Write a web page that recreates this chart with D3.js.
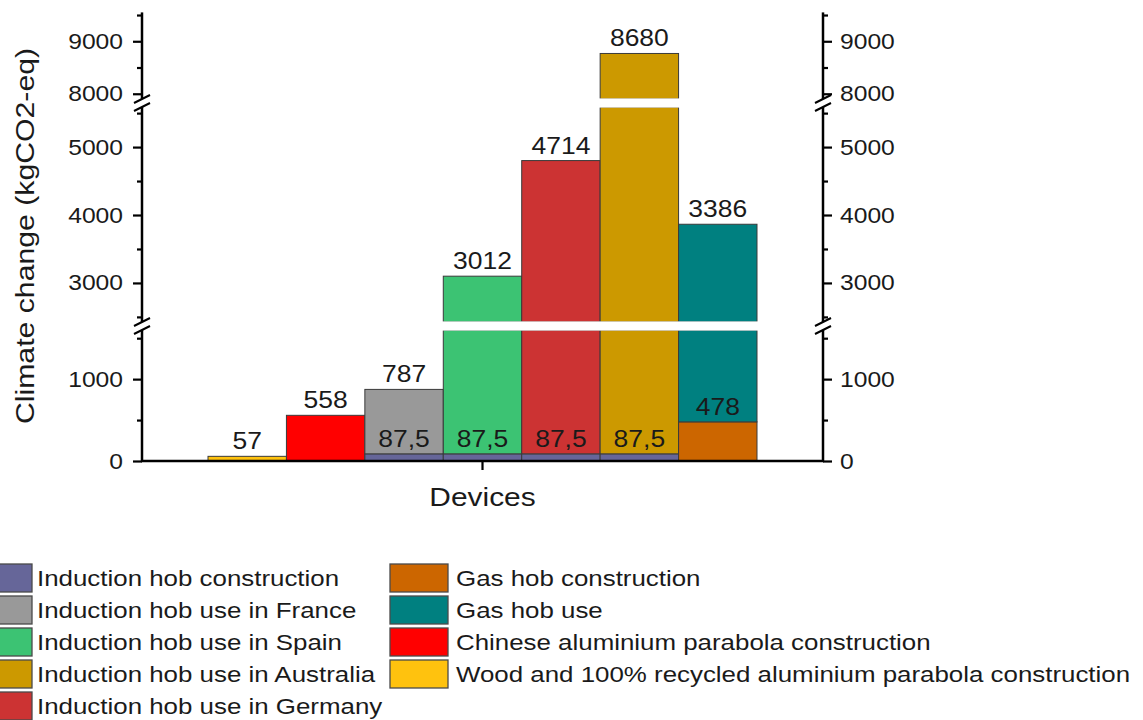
<!DOCTYPE html>
<html>
<head>
<meta charset="utf-8">
<script src="https://cdn.jsdelivr.net/npm/d3@7"></script>
<style>
  html, body { margin: 0; padding: 0; background: #fff; }
  svg { display: block; }
  text { font-family: "Liberation Sans", Arial, sans-serif; fill: #1a1a1a; }
</style>
</head>
<body>
<svg id="chart" width="1143" height="720"></svg>
<script>
// ---------------- DATA ----------------
const seriesNames = [
  "Induction hob construction",
  "Induction hob use in France",
  "Induction hob use in Spain",
  "Induction hob use in Australia",
  "Induction hob use in Germany",
  "Gas hob construction",
  "Gas hob use",
  "Chinese aluminium parabola construction",
  "Wood and 100% recycled aluminium parabola construction"
];
const seriesColors = ["#666699", "#999999", "#3cc373", "#cc9900", "#cc3333", "#cc6600", "#008080", "#ff0000", "#ffc20e"];

// one bar per device, each a stack of (bottom, top) segments
const barBottomSeries = [8, 7, 0, 0, 0, 0, 5];
const barBottomValues = [57, 558, 87.5, 87.5, 87.5, 87.5, 478];
const barTopSeries    = [null, null, 1, 2, 4, 3, 6];
const barTopValues    = [0, 0, 787, 3012, 4714, 8680, 3386];

const xCategory = ["Devices"];
const majorTicks = [0, 1000, 3000, 4000, 5000, 8000, 9000];
const minorTicks = [500, 1500, 2500, 3500, 4500, 5500, 8500, 9500];
const yTitle = "Climate change (kgCO2-eq)";

const legendCol1 = [0, 1, 2, 3, 4];
const legendCol2 = [5, 6, 7, 8];

// ---------------- LAYOUT ----------------
const SX = 1.15;          // horizontal glyph stretch of the original figure
const axL = 142, axR = 823, axB = 461;
const segs = [
  d3.scaleLinear().domain([0, 1600]).range([461, 330]),
  d3.scaleLinear().domain([2425, 5590]).range([322, 107]),
  d3.scaleLinear().domain([7900, 9550]).range([99, 12.4])
];
function segOf(v) { return segs.find(s => v >= s.domain()[0] - 1e-9 && v <= s.domain()[1] + 1e-9); }
function y(v) { return segOf(v)(v); }

const svg = d3.select("#chart");
function stretch(sel, sx) {
  sel.each(function () {
    const len = this.getComputedTextLength();
    d3.select(this).attr("textLength", len * sx).attr("lengthAdjust", "spacingAndGlyphs");
  });
}
const fmt = v => String(v).replace(".", ",");

const x = d3.scaleBand().domain(d3.range(barBottomValues.length)).range([208, 757]).padding(0);

// ---------------- BARS ----------------
const gBars = svg.append("g");
function drawStack(i, v0, v1, color) {
  segs.forEach(s => {
    const lo = Math.max(v0, s.domain()[0]), hi = Math.min(v1, s.domain()[1]);
    if (lo < hi) {
      gBars.append("rect")
        .attr("x", x(i)).attr("width", x.bandwidth())
        .attr("y", s(hi)).attr("height", s(lo) - s(hi))
        .attr("fill", color).attr("stroke", "#3a3a3a").attr("stroke-width", 1);
    }
  });
}
const labels = [];
barBottomValues.forEach((bv, i) => {
  drawStack(i, 0, bv, seriesColors[barBottomSeries[i]]);
  labels.push({ i, v: bv, top: bv });
  if (barTopSeries[i] !== null) {
    const tot = bv + barTopValues[i];
    drawStack(i, bv, tot, seriesColors[barTopSeries[i]]);
    labels.push({ i, v: barTopValues[i], top: tot });
  }
});
// white gaps of the axis breaks across the bars
for (let k = 0; k < segs.length - 1; k++) {
  const yLow = segs[k].range()[1], yHigh = segs[k + 1].range()[0];
  gBars.append("rect").attr("x", x.range()[0] - 2).attr("width", x.range()[1] - x.range()[0] + 4)
    .attr("y", yHigh - 0.6).attr("height", yLow - yHigh + 1.2).attr("fill", "#fff");
}
// value labels
svg.append("g").selectAll("text").data(labels).join("text")
  .attr("x", d => x(d.i) + x.bandwidth() / 2)
  .attr("y", d => y(d.top) - 7)
  .attr("text-anchor", "middle")
  .style("font-size", "23px")
  .text(d => fmt(d.v))
  .call(stretch, SX);

// ---------------- AXES ----------------
const axisStyle = g => {
  g.selectAll("path.domain").remove();
  g.selectAll(".tick line").attr("stroke", "#000").attr("stroke-width", 2.2);
  g.selectAll(".tick text").style("font-size", "22px").attr("fill", "#1a1a1a")
    .style("font-family", '"Liberation Sans", Arial, sans-serif');
};
[{ xpos: axL, mk: d3.axisLeft, pad: 10 }, { xpos: axR, mk: d3.axisRight, pad: 8 }].forEach(a => {
  segs.forEach(s => {
    const [d0, d1] = s.domain();
    const maj = majorTicks.filter(t => t >= d0 && t <= d1);
    const mnr = minorTicks.filter(t => t >= d0 && t <= d1);
    svg.append("g").attr("transform", `translate(${a.xpos},0)`)
      .call(a.mk(s).tickValues(mnr).tickSize(5).tickFormat(""))
      .call(axisStyle);
    const g = svg.append("g").attr("transform", `translate(${a.xpos},0)`)
      .call(a.mk(s).tickValues(maj).tickSize(9).tickPadding(a.pad).tickFormat(d3.format("d")))
      .call(axisStyle);
    g.selectAll(".tick text").call(stretch, 1.12);
    // axis spine of this segment
    svg.append("line").attr("x1", a.xpos).attr("x2", a.xpos)
      .attr("y1", s.range()[0] + (d0 === 0 ? 1 : 0)).attr("y2", s.range()[1])
      .attr("stroke", "#000").attr("stroke-width", 2.5);
  });
  // break marks
  for (let k = 0; k < segs.length - 1; k++) {
    const yLow = segs[k].range()[1], yHigh = segs[k + 1].range()[0];
    const m = (yLow + yHigh) / 2, h = 4, w = 8;
    svg.append("path")
      .attr("d", `M${a.xpos - w},${m - h + 4}L${a.xpos + w},${m - h - 4}L${a.xpos + w},${m + h - 4}L${a.xpos - w},${m + h + 4}Z`)
      .attr("fill", "#fff");
    [m - h, m + h].forEach(c => {
      svg.append("line").attr("x1", a.xpos - w).attr("y1", c + 4).attr("x2", a.xpos + w).attr("y2", c - 4)
        .attr("stroke", "#000").attr("stroke-width", 2);
    });
  }
});

// x axis
const xAxisScale = d3.scaleBand().domain(xCategory).range([axL, axR]);
svg.append("line").attr("x1", axL - 1).attr("x2", axR + 1).attr("y1", axB).attr("y2", axB)
  .attr("stroke", "#000").attr("stroke-width", 2.5);
const gx = svg.append("g").attr("transform", `translate(0,${axB})`)
  .call(d3.axisBottom(xAxisScale).tickSize(9).tickFormat(""));
gx.select("path.domain").remove();
gx.selectAll(".tick line").attr("stroke", "#000").attr("stroke-width", 2.2);

svg.append("text").attr("x", xAxisScale(xCategory[0]) + xAxisScale.bandwidth() / 2).attr("y", 506).attr("text-anchor", "middle")
  .style("font-size", "26px").text(xCategory[0]).call(stretch, SX);

svg.append("text").attr("transform", "translate(34,236) rotate(-90)").attr("text-anchor", "middle")
  .style("font-size", "26.5px").text(yTitle).call(stretch, 1.14);

// ---------------- LEGEND ----------------
const legend = svg.append("g");
function legendColumn(items, swX, txX) {
  items.forEach((si, r) => {
    const top = 564 + r * 32;
    legend.append("rect").attr("x", swX).attr("y", top).attr("width", 58).attr("height", 28)
      .attr("fill", seriesColors[si]).attr("stroke", "#4a4a4a").attr("stroke-width", 1.3);
    legend.append("text").attr("x", txX).attr("y", top + 14).attr("dy", "0.36em")
      .style("font-size", "22.5px").text(seriesNames[si]).call(stretch, SX);
  });
}
legendColumn(legendCol1, -26, 37);
legendColumn(legendCol2, 390, 456);
</script>
</body>
</html>
